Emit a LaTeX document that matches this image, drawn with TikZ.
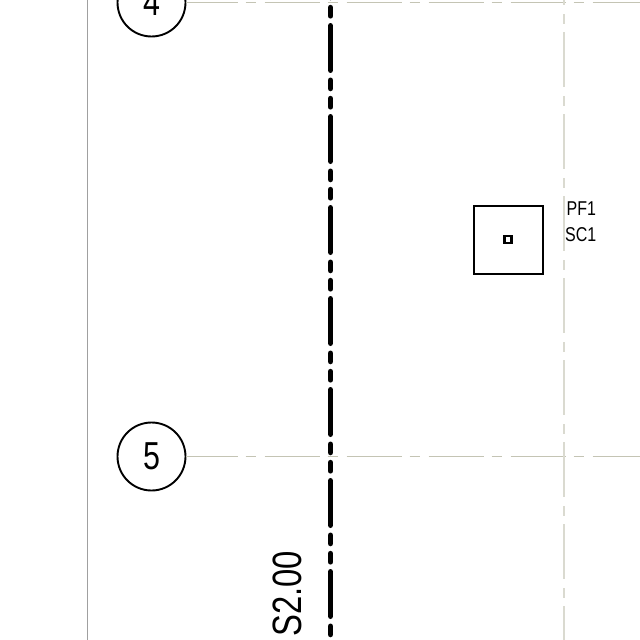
\documentclass[tikz,border=0pt]{standalone}
\usepackage{fontspec}
\setmainfont{Liberation Sans}
\newcommand{\narrowtxt}[1]{\scalebox{.8}[1]{#1}}
\begin{document}
\begin{tikzpicture}[x=1pt,y=-1pt,
  gridh/.style={draw=gridtan,line width=.8pt,dash pattern=on 55pt off 8pt on 10pt off 9pt},
  gridv/.style={draw=gridpale,line width=1.3pt,dash pattern=on 55pt off 9pt on 10pt off 8pt},
  axisbub/.style={circle,draw=black,line width=1.9pt,fill=white,inner sep=0pt,outer sep=0pt,minimum size=68pt,font=\fontsize{39}{39}\selectfont},
  cutline/.style={draw=black,line width=5.6pt,line cap=round,dash pattern=on 44.4pt off 10.1pt on 8.2pt off 10.1pt on 8.2pt off 10pt},
  box/.style={draw=black,line width=2pt,inner sep=0pt,outer sep=0pt},
  tag/.style={font=\fontsize{20}{20}\selectfont,inner sep=0pt}]
\definecolor{gridtan}{HTML}{C4C4B4}
\definecolor{gridpale}{HTML}{DADAD0}
\definecolor{edgegray}{HTML}{A0A0A0}
\useasboundingbox (0,0) rectangle (640,640);
\fill[white] (0,0) rectangle (640,640);
\clip (0,0) rectangle (640,640);
% boundary
\coordinate (et) at (87.5,-5);
\coordinate (eb) at (87.5,645);
\draw[edgegray,line width=1pt] (et) -- (eb);
% axis bubbles
\node[axisbub] (a4) at (151.5,2.5) {\raisebox{-1pt}{\scalebox{.78}[1]{4}}};
\node[axisbub] (a5) at (151.5,456.5) {\raisebox{-1pt}{\scalebox{.78}[1]{5}}};
% grid lines
\coordinate (r4) at (650,2.5);
\coordinate (r5) at (650,456.5);
\coordinate (vt) at (564,-50);
\coordinate (vb) at (564,650);
\draw[gridh,dash phase=3pt] (a4.east) -- (r4);
\draw[gridh,dash phase=3pt] (a5.east) -- (r5);
\draw[gridv] (vt) -- (vb);
% cut line
\coordinate (ct) at (330.5,-65.2);
\coordinate (cb) at (330.5,660);
\draw[cutline] (ct) -- (cb);
% footing
\node[box,minimum width=69pt,minimum height=68pt] (foot) at (508,239.5) {};
\node[box,line width=2.5pt,minimum size=7pt] (col) at (foot.center) {};
\node[tag,anchor=west] (pf) at (566.5,208.5) {\narrowtxt{PF1}};
\node[tag,anchor=west] (sc) at (565,234.5) {\narrowtxt{SC1}};
% label
\node[rotate=90,inner sep=0pt,font=\fontsize{41}{41}\selectfont] (s2) at (287,594) {\scalebox{.8}[1]{S2.00}};
\end{tikzpicture}
\end{document}
